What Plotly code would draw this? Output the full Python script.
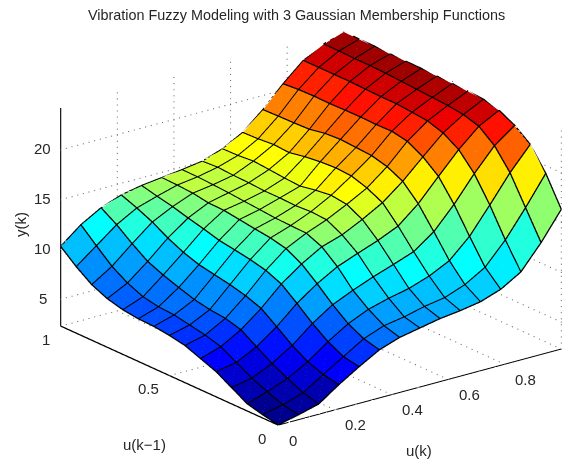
import plotly.graph_objects as go

u_k = [i / 14 for i in range(15)]
u_k1 = [j / 14 for j in range(15)]

# y(k), one list per u(k) index, running along u(k-1)
y_u00 = [2.3,2.6,3.0,3.9,4.8,5.4,6.0,6.3,6.5,6.55,6.75,7.15,7.85,8.95,10.27]
y_u01 = [2.76,3.05,3.65,4.3,5.17,6.04,6.5,6.8,7.1,7.2,7.5,8.18,9.14,10.5,11.9]
y_u02 = [3.3,3.7,4.44,5.23,6.2,7.2,7.63,7.8,8.1,8.6,9.14,9.8,10.87,12.07,13.06]
y_u03 = [4.7,5.0,5.57,6.5,7.67,8.8,9.36,9.76,10.05,10.35,10.87,11.6,12.5,13.2,13.8]
y_u04 = [5.95,6.25,7.04,8.16,9.47,10.7,11.36,11.73,12.0,12.24,12.68,13.07,13.5,13.83,14.2]
y_u05 = [7.1,7.5,8.3,9.5,10.9,12.17,13.0,13.36,13.56,13.78,14.0,14.04,14.3,14.4,14.45]
y_u06 = [7.8,8.26,9.2,10.4,12.06,13.35,14.0,14.05,14.1,14.24,14.36,14.5,14.6,14.68,14.7]
y_u07 = [8.2,8.6,9.76,11.2,12.85,14.0,14.8,14.9,14.8,14.86,14.85,14.96,15.0,15.1,15.0]
y_u08 = [8.6,9.1,10.2,11.9,13.6,15.0,15.8,16.0,15.8,15.5,15.6,15.75,15.88,15.74,15.7]
y_u09 = [8.85,9.44,10.9,12.64,14.5,16.14,16.9,17.4,17.5,17.4,17.2,16.9,17.0,16.86,16.8]
y_u10 = [9.2,10.2,11.9,14.1,16.2,17.74,18.5,18.9,19.0,19.1,19.0,18.7,18.64,18.6,18.55]
y_u11 = [9.9,11.4,13.8,16.3,18.4,19.65,20.5,20.8,20.76,20.8,20.78,20.74,20.77,20.73,20.6]
y_u12 = [11.1,13.6,16.4,18.84,20.54,21.5,22.0,22.16,22.3,22.3,22.35,22.4,22.4,22.4,22.4]
y_u13 = [13.5,16.3,19.1,21.1,22.34,22.8,23.0,23.1,23.2,23.3,23.4,23.45,23.45,23.5,23.5]
y_u14 = [16.3,19.2,21.4,22.6,23.4,23.8,23.9,23.96,24.0,24.05,24.07,24.1,24.15,24.15,24.2]

Y = [y_u00,y_u01,y_u02,y_u03,y_u04,y_u05,y_u06,y_u07,y_u08,y_u09,y_u10,y_u11,y_u12,y_u13,y_u14]

u_ticks = [0, 0.2, 0.4, 0.6, 0.8, 1.0]
u_labels = ["0", "0.2", "0.4", "0.6", "0.8", ""]
v_ticks = [0, 0.5, 1.0]
v_labels = ["0", "0.5", "1"]
z_ticks = [5, 10, 15, 20]
z_labels = ["5", "10", "15", "20"]
ZMIN, ZMAX = 2.3, 24.2
TITLE = "Vibration Fuzzy Modeling with 3 Gaussian Membership Functions"
FONT = "Liberation Sans, Arial, sans-serif"
INK = "#262626"


def jet64(t):
    k = min(63, max(0, int(t * 64)))
    f = (k + 1) / 64
    r = min(1, max(0, min(4 * f - 1.5, 4.5 - 4 * f)))
    g = min(1, max(0, min(4 * f - 0.5, 3.5 - 4 * f)))
    b = min(1, max(0, min(4 * f + 0.5, 2.5 - 4 * f)))
    return f"rgb({round(r*255)},{round(g*255)},{round(b*255)})"


n = len(u_k)
vx, vy, vz = [], [], []
for a in range(n):
    for b in range(n):
        vx.append(u_k[a]); vy.append(u_k1[b]); vz.append(Y[a][b])
ti, tj, tk, fc = [], [], [], []
for a in range(n - 1):
    for b in range(n - 1):
        p = a * n + b
        col = jet64((Y[a][b] - ZMIN) / (ZMAX - ZMIN))
        ti += [p, p]; tj += [p + n, p + n + 1]; tk += [p + n + 1, p + 1]
        fc += [col, col]

fig = go.Figure()
fig.add_trace(go.Mesh3d(x=vx, y=vy, z=vz, i=ti, j=tj, k=tk, facecolor=fc, flatshading=True,
                        lighting=dict(ambient=1, diffuse=0, specular=0, roughness=1, fresnel=0),
                        hoverinfo="skip", showscale=False))


def lines(segs, color, width, opacity=1.0):
    xs, ys, zs = [], [], []
    for s in segs:
        for q in s:
            xs.append(q[0]); ys.append(q[1]); zs.append(q[2])
        xs.append(None); ys.append(None); zs.append(None)
    fig.add_trace(go.Scatter3d(x=xs, y=ys, z=zs, mode="lines", opacity=opacity,
                               line=dict(color=color, width=width),
                               hoverinfo="skip", showlegend=False))


LIFT = 0.03
mesh = []
for a in range(n):
    mesh.append([(u_k[a], u_k1[b], Y[a][b] + LIFT) for b in range(n)])
for b in range(n):
    mesh.append([(u_k[a], u_k1[b], Y[a][b] + LIFT) for a in range(n)])
lines(mesh, "black", 2.6)

seams = []
for a in range(n - 1):
    for b in range(n - 1):
        seams.append([(u_k[a], u_k1[b], Y[a][b] + LIFT),
                      (u_k[a + 1], u_k1[b + 1], Y[a + 1][b + 1] + LIFT)])
lines(seams, "white", 1, opacity=0.3)


# dotted grid, drawn as tiny markers spaced along each grid run
def dotted(p, q, count):
    return [tuple(p[c] + (q[c] - p[c]) * s / count for c in range(3)) for s in range(count + 1)]


U_DOTS, V_DOTS, Z_DOTS = 50, 40, 36
dots = []
for t in u_ticks[1:-1]:
    dots += dotted((t, 0, ZMIN), (t, 1, ZMIN), V_DOTS) + dotted((t, 1, ZMIN), (t, 1, ZMAX), Z_DOTS)
dots += dotted((0, 0.5, ZMIN), (1, 0.5, ZMIN), U_DOTS) + dotted((1, 0.5, ZMIN), (1, 0.5, ZMAX), Z_DOTS)
dots += dotted((1, 0, ZMIN), (1, 0, ZMAX), Z_DOTS)
dots += dotted((1, 1, ZMIN), (1, 1, ZMAX), Z_DOTS)
dots += dotted((0, 1, ZMIN), (1, 1, ZMIN), U_DOTS) + dotted((1, 1, ZMIN), (1, 0, ZMIN), V_DOTS)
for t in z_ticks:
    dots += dotted((0, 1, t), (1, 1, t), U_DOTS) + dotted((1, 1, t), (1, 0, t), V_DOTS)
fig.add_trace(go.Scatter3d(x=[d[0] for d in dots], y=[d[1] for d in dots], z=[d[2] for d in dots],
                           mode="markers", marker=dict(size=0.7, color="#707070", line=dict(width=0)),
                           hoverinfo="skip", showlegend=False))

lines([[(0, 0, ZMIN), (1, 0, ZMIN)]], "black", 2)
lines([[(0, 0, ZMIN), (0, 1, ZMIN)]], "black", 2.6)
lines([[(0, 1, ZMIN), (0, 1, ZMAX)]], "black", 2.3)
ticks = []
for t in u_ticks:
    ticks.append([(t, 0, ZMIN), (t, -0.03, ZMIN)])
for t in v_ticks:
    ticks.append([(0, t, ZMIN), (-0.025, t, ZMIN)])
for t in z_ticks:
    ticks.append([(0, 1, t), (0, 1.03, t)])
lines(ticks, "black", 2)

anns = []
tf = dict(family=FONT, size=15, color=INK)
for t, s in zip(u_ticks, u_labels):
    if s:
        anns.append(dict(x=t, y=0, z=ZMIN, text=s, showarrow=False, font=tf,
                         xshift=15 if s == "0" else 21, yshift=-15))
for t, s in zip(v_ticks, v_labels):
    anns.append(dict(x=0, y=t, z=ZMIN, text=s, showarrow=False, font=tf,
                     xshift={"0": -16, "0.5": -21, "1": -15}[s], yshift=-13))
for t, s in zip(z_ticks, z_labels):
    anns.append(dict(x=0, y=1, z=t, text=s, showarrow=False, font=tf, xshift=-18, yshift=1))

hidden = dict(visible=False, showgrid=False, zeroline=False, showspikes=False)


def note(text, px, py, size, angle=0):
    return dict(text=text, x=px / 573, y=1 - py / 462, xref="paper", yref="paper", showarrow=False,
                xanchor="center", yanchor="middle", textangle=angle,
                font=dict(family=FONT, size=size, color=INK))


SCALE = 1.5625
fig.update_layout(
    width=573, height=462, autosize=False,
    margin=dict(l=0, r=0, t=0, b=0),
    paper_bgcolor="white", plot_bgcolor="white", showlegend=False,
    scene=dict(
        domain=dict(x=[0.0855, 1], y=[0.0108, 1]),
        xaxis=dict(range=[0, 1], **hidden),
        yaxis=dict(range=[0, 1], **hidden),
        zaxis=dict(range=[ZMIN, ZMAX], **hidden),
        aspectmode="manual",
        aspectratio=dict(x=SCALE, y=SCALE, z=0.652 * SCALE),
        camera=dict(projection=dict(type="orthographic"),
                    up=dict(x=0, y=0, z=1),
                    center=dict(x=0, y=0, z=0),
                    eye=dict(x=-0.571 * 1.3, y=-0.743 * 1.3, z=0.35 * 1.3)),
        annotations=anns,
    ),
    annotations=[
        note(TITLE, 296, 15, 14.4),
        note("u(k\u22121)", 144, 444, 15),
        note("u(k)", 419, 450, 15),
        note("y(k)", 20, 225, 15, -90),
    ],
)

fig.write_html("out.html", config=dict(displayModeBar=False),
               post_script="document.body.style.margin='0';document.body.style.overflow='hidden';")
